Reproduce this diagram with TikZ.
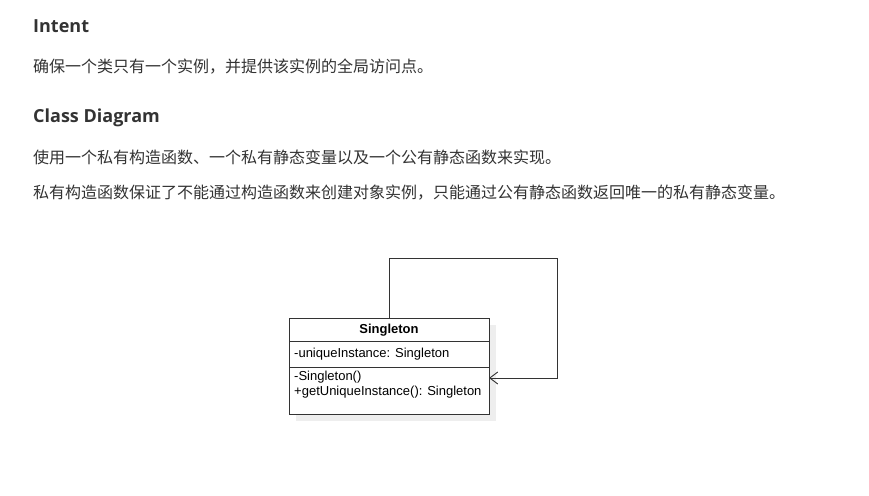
\documentclass[tikz,border=0pt]{standalone}
\usepackage{fontspec}
\setmainfont{Liberation Sans}
\newfontfamily\cjk{Noto Sans CJK SC}
\newfontfamily\headfont{Open Sans}
\usetikzlibrary{arrows.meta}
\definecolor{txt}{HTML}{333333}
\definecolor{shadowgray}{HTML}{EEEEEE}
\tikzset{
  heading/.style={anchor=base west, inner sep=0pt, text=txt, font=\headfont\bfseries\fontsize{18}{20}\selectfont},
  para/.style={anchor=west, inner sep=0pt, text=txt, font=\cjk\fontsize{16}{18}\selectfont},
  member/.style={anchor=west, inner sep=0pt, font=\fontsize{13}{15}\selectfont},
  umlline/.style={draw=black!80, line width=1pt},
  assoc/.style={draw=black!80, line width=1pt, -{Straight Barb[length=8pt,width=12pt,line width=0.9pt]}}
}
\begin{document}
\begin{tikzpicture}[x=1pt,y=-1pt]
\useasboundingbox[fill=white] (0,0) rectangle (869,495);
\node[heading] (h1) at (33,33) {Intent};
\node[para] (p1) at (33,67) {确保一个类只有一个实例，并提供该实例的全局访问点。};
\node[heading] (h2) at (33,122) {Class Diagram};
\node[para] (p2) at (33,157) {使用一个私有构造函数、一个私有静态变量以及一个公有静态函数来实现。};
\node[para] (p3) at (33,193) {私有构造函数保证了不能通过构造函数来创建对象实例，只能通过公有静态函数返回唯一的私有静态变量。};
% shadow
\fill[shadowgray] (296,325) rectangle (496,421);
\node[umlline, fill=white, rectangle, anchor=north west, minimum width=200pt, minimum height=96pt, inner sep=0pt] (cls) at (289,318) {};
\node[font=\bfseries\fontsize{13}{15}\selectfont, inner sep=0pt] (name) at (389,330.5) {Singleton};
\coordinate (d1l) at (289,341); \coordinate (d1r) at (489,341);
\coordinate (d2l) at (289,367); \coordinate (d2r) at (489,367);
\draw[umlline] (d1l) -- (d1r);
\draw[umlline] (d2l) -- (d2r);
\node[member] (attr) at (294,354) {-uniqueInstance: Singleton};
\node[member] (op1) at (294,377) {-Singleton()};
\node[member] (op2) at (294,392) {+getUniqueInstance(): Singleton};
\coordinate (c1) at (557,258);
\coordinate (tip) at (489,378);
\draw[assoc] (cls.north) |- (c1) |- (tip);
\end{tikzpicture}
\end{document}
